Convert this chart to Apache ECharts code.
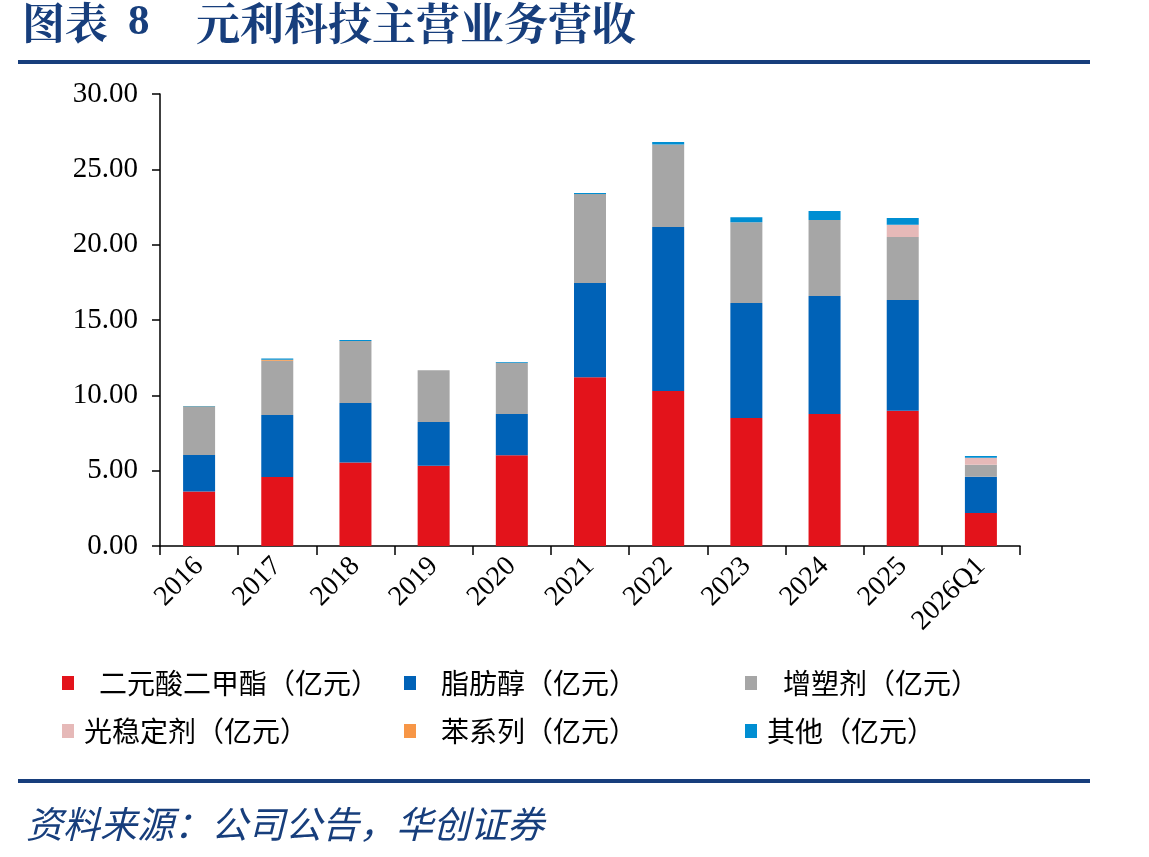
<!DOCTYPE html>
<html><head><meta charset="utf-8">
<script src="https://cdn.jsdelivr.net/npm/echarts@6/dist/echarts.min.js"></script>
<style>html,body{margin:0;padding:0;background:#fff}#c{width:1149px;height:857px}</style>
</head><body><div id="c"></div>
<script>
const categories = ['2016','2017','2018','2019','2020','2021','2022','2023','2024','2025','2026Q1'];
const dimethyl = [3.62, 4.58, 5.55, 5.33, 6.02, 11.20, 10.29, 8.50, 8.76, 8.98, 2.19];
const fattyAlcohol = [2.42, 4.11, 3.94, 2.90, 2.74, 6.25, 10.88, 7.63, 7.83, 7.35, 2.41];
const plasticizer = [3.18, 3.61, 4.11, 3.43, 3.41, 5.91, 5.47, 5.35, 5.05, 4.18, 0.80];
const lightStabilizer = [0, 0, 0, 0, 0, 0, 0, 0, 0, 0.82, 0.46];
const benzene = [0.04, 0.07, 0, 0, 0, 0, 0, 0, 0, 0, 0];
const others = [0.04, 0.08, 0.07, 0, 0.04, 0.07, 0.17, 0.34, 0.59, 0.44, 0.11];
const yTicks = [0, 5, 10, 15, 20, 25, 30];

const names = ['二元酸二甲酯（亿元）','脂肪醇（亿元）','增塑剂（亿元）','光稳定剂（亿元）','苯系列（亿元）','其他（亿元）'];
const colors = ['#E3131B','#0062B7','#A6A6A6','#E6B9B8','#F79646','#008ED2'];
const datas = [dimethyl, fattyAlcohol, plasticizer, lightStabilizer, benzene, others];
const legendPos = [[57,662,25],[399,662,25],[740,662,26],[57,710,10],[399,710,25],[740,710,10]];
const navy = '#173E7C';
const chart = echarts.init(document.getElementById('c'));
chart.setOption({
  animation:false,
  backgroundColor:'#fff',
  grid:{left:160,right:129,top:94,bottom:311},
  xAxis:{type:'category',data:categories,
    axisLine:{lineStyle:{color:'#000',width:1.5}},
    axisTick:{show:true,length:9,lineStyle:{color:'#000',width:1.5}},
    axisLabel:{rotate:45,color:'#000',fontFamily:'Liberation Serif',fontSize:28,margin:16,interval:0}},
  yAxis:{type:'value',min:0,max:30,interval:5,
    axisLine:{show:true,lineStyle:{color:'#000',width:1.5}},
    axisTick:{show:true,length:8,lineStyle:{color:'#000',width:1.5}},
    splitLine:{show:false},
    axisLabel:{color:'#000',fontFamily:'Liberation Serif',fontSize:29,margin:22,
      formatter:v=>yTicks.includes(v)?v.toFixed(2):''}},
  legend: names.map((n,i)=>({show:true,left:legendPos[i][0],top:legendPos[i][1],itemWidth:12,itemHeight:14,
    icon:'rect',data:[{name:n,textStyle:{padding:[0,0,0,legendPos[i][2]-5]}}],
    textStyle:{fontFamily:'Noto Sans CJK SC',fontSize:28,color:'#000',lineHeight:32}})),
  series: names.map((n,i)=>({name:n,type:'bar',stack:'total',barWidth:32,data:datas[i],
    itemStyle:{color:colors[i]}})),
  graphic:[
    {type:'text',left:22,top:1,style:{text:'图表',fill:navy,font:'bold 43px "Noto Serif CJK SC","Noto Sans CJK SC"'}},
    {type:'text',left:128,top:1,style:{text:'8',fill:navy,font:'bold 43px "Liberation Serif"'}},
    {type:'text',left:196,top:1,style:{text:'元利科技主营业务营收',fill:navy,font:'bold 44px "Noto Serif CJK SC","Noto Sans CJK SC"'}},
    {type:'rect',shape:{x:18,y:60,width:1072,height:4},style:{fill:navy}},
    {type:'rect',shape:{x:18,y:779,width:1072,height:4},style:{fill:navy}},
    {type:'text',left:26,top:805,style:{text:'资料来源：公司公告，华创证券',fill:navy,font:'italic 37px "Noto Sans CJK SC"'}}
  ]
});
</script></body></html>
